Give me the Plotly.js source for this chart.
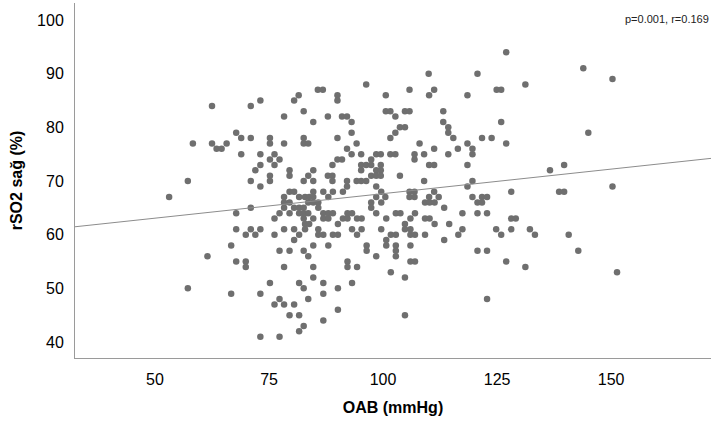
<!DOCTYPE html>
<html>
<head>
<meta charset="utf-8">
<script src="https://cdn.plot.ly/plotly-3.0.1.min.js"></script>
<style>html,body{margin:0;padding:0;background:#fff;}#chart{width:711px;height:424px;}</style>
</head>
<body>
<div id="chart"></div>
<script>
// OAB (mmHg) values
var oab = [
57.2,58.3,62.5,62.5,63.5,64.6,65.7,67.8,68.9,68.9,71,71,71,73.1,73.1,73.1,73.1,72,75.2,75.2,76.2,75.2,77.3,76.2,75.2,75.2,78.3,78.3,80.5,81.5,79.5,79.5,
127,110,120.7,96.3,131.2,85.7,86.8,90,90,100.6,105.8,110.1,111.2,118.5,124.9,125.9,
82.6,84.7,87.9,91,92.1,93.1,100.6,101.6,102.7,104.8,105.8,103.7,104.8,102.7,101.6,113.2,113.2,114.3,114.3,115.4,125.9,121.7,123.8,127,118.5,119.6,119.6,116.4,114.3,111.2,109,108,106.9,106.9,110.1,111.2,118.5,119.6,118.5,109,103.7,101.6,102.7,
82.6,82.6,83.6,90,93.1,94.2,92.1,93.1,95.2,90,91,88.9,98.5,99.5,97.4,95.2,96.3,97.4,99.5,95.2,98.5,99.5,97.4,98.5,99.5,98.5,83.6,84.7,84.7,82.6,87.9,88.9,88.9,92.1,92.1,94.2,95.2,96.3,
143.9,150.3,145,136.6,139.7,150.3,
53.1,67.8,71,67.8,71,73.1,69.9,72,66.7,61.5,67.8,69.9,69.9,76.2,76.2,77.3,78.3,80.5,81.6,80.5,77.3,79.5,82.6,78.3,
78.3,79.5,80.5,81.6,78.3,79.5,78.3,80.5,81.6,82.6,79.5,81.6,82.6,82.6,
99.6,98.5,100.5,105.8,106.9,105.8,106.9,111.2,110.1,112.2,119.6,121.7,122.8,
128.1,138.6,139.7,120.7,121.7,117.4,120.7,122.8,128.1,129.1,117.4,124.8,125.9,128.1,132.2,133.3,140.7,120.7,122.8,142.8,127,131.2,
84.7,86.9,89,91.2,
82.9,83.8,84.7,88,
83.6,84.7,85.8,97.4,99.6,109.2,110.2,111.3,
85.8,97.4,113.4,
83.6,86.9,88,89,92.2,93.2,98.5,102.8,103.8,107,
84.7,86.9,88,91.2,92.2,94.3,95.3,100.7,106,109.2,110.2,
82.9,83.8,90.1,104.8,111.3,114.5,
82.9,85.8,93.2,95.3,99.6,104.8,106,
85.8,86.9,89,90.1,94.3,101.7,102.8,106,107,109.2,116.5,
100.7,113.4,
84.7,88,96.4,100.7,102.8,106,
96.4,102.8,
83.6,98.5,102.8,
92.2,106,107,
84.7,92.2,94.3,101.7,
57.2,66.7,73.1,75.2,81.6,82.6,83.6,77.3,76.2,78.3,80.5,79.5,81.6,82.6,81.6,73.1,77.3,
104.8,84.7,86.9,93.2,90.1,86.9,90.1,86.9,104.8,
151.3,122.8
];
// rSO2 sağ (%) values
var rso2 = [
70,77,84,77,76,76,77,79,78,75,84,78,70,85,75,73,69,72,78,77,75,74,74,73,71,70,82,77,85,86,72,71,
94,90,90,88,88,87,87,86,85,86,87,86,87,86,87,87,
83,81,82,82,82,81,83,83,82,83,83,80,80,79,78,83,81,80,79,78,81,78,78,77,77,76,75,76,75,76,75,77,75,74,73,73,73,70,69,70,71,75,75,
78,77,77,78,79,77,76,75,75,74,74,73,75,75,74,73,73,73,73,72,72,72,71,71,71,69,71,72,70,70,71,71,70,70,69,70,70,70,
91,89,79,72,73,69,
67,64,65,61,61,61,60,60,58,56,55,55,54,63,60,64,61,61,60,59,57,57,57,54,
67,68,68,67,66,66,65,65,65,65,64,64,64,63,
68,67,67,68,68,67,67,68,67,67,67,67,67,
68,68,68,66,66,64,64,64,63,63,61,61,60,61,61,60,60,57,57,57,55,54,
68,68,68,68,
67,67,67,67,
66,66,66,66,66,66,66,66,
65,65,65,
64,64,64,64,64,64,64,64,64,64,
63,63,63,63,63,63,63,63,63,63,63,
62,62,62,62,62,62,
61,61,61,61,61,61,61,
60,60,60,60,60,60,60,60,60,60,60,
59,59,
58,58,58,58,58,58,
57,57,
56,56,56,
55,55,55,
54,54,54,53,
50,49,49,51,51,50,48,48,47,47,47,45,45,43,42,41,41,
52,52,51,51,50,49,46,44,45,
53,48
];
var xTicks = [50, 75, 100, 125, 150];
var yTicks = [40, 50, 60, 70, 80, 90, 100];
var statText = 'p=0.001, r=0.169';

// least-squares fit line
var n = oab.length, sx = 0, sy = 0, sxx = 0, sxy = 0;
for (var i = 0; i < n; i++) { sx += oab[i]; sy += rso2[i]; sxx += oab[i]*oab[i]; sxy += oab[i]*rso2[i]; }
var slope = (n*sxy - sx*sy) / (n*sxx - sx*sx);
var icpt = (sy - slope*sx) / n;
var xr = [32.46, 171.9];
var lineX = xr.slice();
var lineY = lineX.map(function(v){ return icpt + slope*v; });

var font = 'Liberation Sans, Arial, sans-serif';
var data = [
  {x: oab, y: rso2, type: 'scatter', mode: 'markers',
   marker: {color: '#6f6f6f', size: 6.5, line: {width: 0}}, hoverinfo: 'x+y'},
  {x: lineX, y: lineY, type: 'scatter', mode: 'lines',
   line: {color: '#8c8c8c', width: 1}, hoverinfo: 'skip'}
];
var layout = {
  width: 711, height: 424,
  margin: {l: 75, r: 0, t: 3, b: 66, pad: 0},
  paper_bgcolor: '#fff', plot_bgcolor: '#fff',
  showlegend: false,
  font: {family: font, color: '#000', size: 16},
  xaxis: {range: xr, tickvals: xTicks, ticktext: xTicks.map(String),
    showgrid: false, zeroline: false, showline: true, linecolor: '#9a9a9a', linewidth: 1,
    ticks: '', ticklabelstandoff: 7, tickfont: {size: 16, family: font, color: '#000'},
    title: {text: '<b>OAB (mmHg)</b>', font: {size: 16, family: font, color: '#000'}, standoff: 14}},
  yaxis: {range: [37.02, 103.17], tickvals: yTicks, ticktext: yTicks.map(String),
    showgrid: false, zeroline: false, showline: true, linecolor: '#9a9a9a', linewidth: 1,
    ticks: '', ticklabelstandoff: 7, tickfont: {size: 16, family: font, color: '#000'},
    title: {text: '<b>rSO2 sağ (%)</b>', font: {size: 16, family: font, color: '#000'}, standoff: 10}},
  annotations: [{text: statText, xref: 'paper', yref: 'paper', x: 1, y: 0.955,
    xanchor: 'right', yanchor: 'middle', showarrow: false,
    font: {size: 11, family: font, color: '#222'}}]
};
Plotly.newPlot('chart', data, layout, {displayModeBar: false, staticPlot: true});
</script>
</body>
</html>
